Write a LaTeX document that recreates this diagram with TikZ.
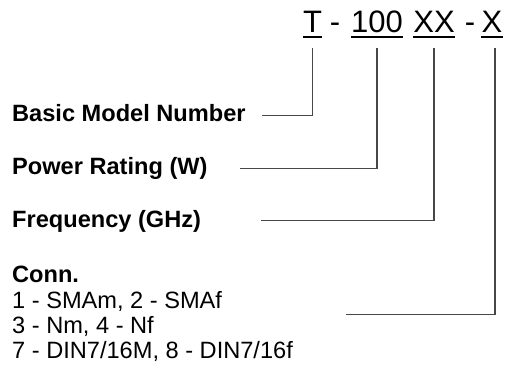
\documentclass[tikz,border=0pt]{standalone}
\usepackage{fontspec}
\setmainfont{Liberation Sans}
\tikzset{
  conn/.style={draw=black!72, line width=1.1pt},
  hdr/.style={inner sep=0pt, anchor=base, font=\fontsize{31}{31}\selectfont},
  uline/.style={draw=black, line width=2pt},
  lbl/.style={inner sep=0pt, anchor=base west, font=\fontsize{23.6}{25}\selectfont\bfseries},
  item/.style={inner sep=0pt, anchor=base west, font=\fontsize{23.6}{25}\selectfont}
}
\begin{document}
\begin{tikzpicture}[x=1pt,y=-1pt]
\useasboundingbox (0,0) rectangle (507,369);
% header code
\node[hdr] (T) at (312.5,32.5) {T};
\node[hdr] (d1) at (335,32.5) {-};
\node[hdr] (P) at (377,32.5) {100};
\node[hdr] (F) at (434,32.5) {XX};
\node[hdr] (d2) at (470,32.5) {-};
\node[hdr] (C) at (492,32.5) {X};
\foreach \n in {T,P,F,C}
  \draw[uline] ([yshift=-4.5pt]\n.base west) -- ([yshift=-4.5pt]\n.base east);
% labels
\node[lbl] (bmn) at (12,122) {Basic Model Number};
\node[lbl] (pwr) at (12,175) {Power Rating (W)};
\node[lbl] (frq) at (12,228) {Frequency (GHz)};
\node[lbl] (cn) at (12,283) {Conn.};
\node[item] (cn1) at (12,308) {1 - SMAm, 2 - SMAf};
\node[item] (cn2) at (12,333) {3 - Nm, 4 - Nf};
\node[item] (cn3) at (12,358) {7 - DIN7/16M, 8 - DIN7/16f};
% connectors
\coordinate (top) at (0,48);
\coordinate (e1) at (262,115.5);
\coordinate (e2) at (240,168.3);
\coordinate (e3) at (261,220.8);
\coordinate (e4) at (346,314.7);
\coordinate (cx) at ([xshift=3pt]C.base);
\draw[conn] (e1) -| (T.base |- top);
\draw[conn] (e2) -| (P.base |- top);
\draw[conn] (e3) -| (F.base |- top);
\draw[conn] (e4) -| (cx |- top);
\end{tikzpicture}
\end{document}
